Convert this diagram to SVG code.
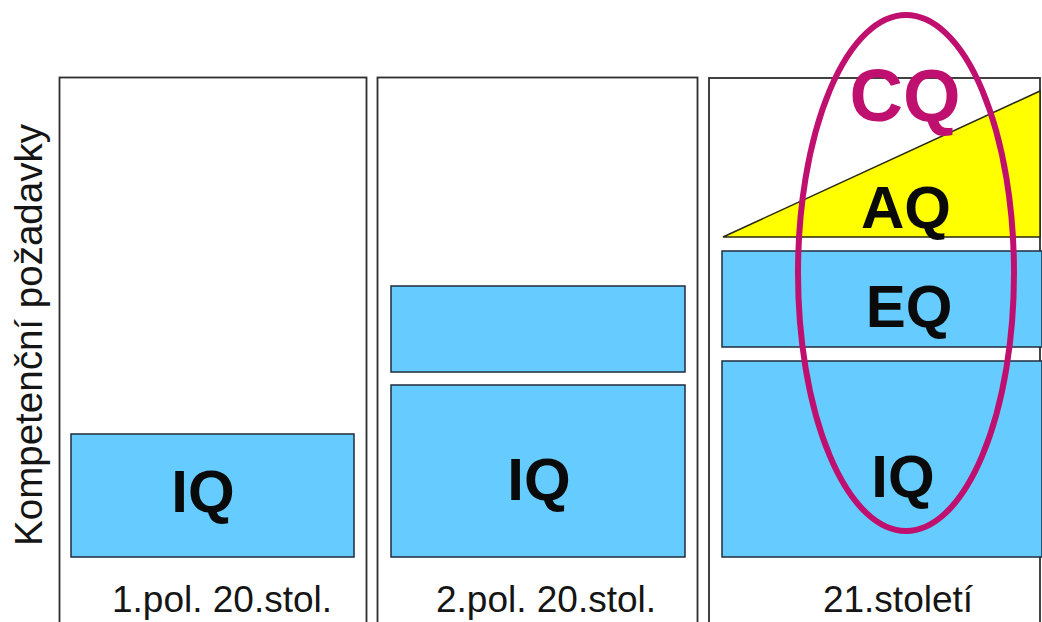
<svg xmlns="http://www.w3.org/2000/svg" width="1042" height="622" viewBox="0 0 1042 622">
  <style>
    .panel { fill: #ffffff; stroke: #2e2e2e; stroke-width: 1.8; }
    .bar { fill: #66CCFF; stroke: #1f2d3d; stroke-width: 1.5; }
    .wedge { fill: #FFFF00; stroke: #2a2a10; stroke-width: 1.5; stroke-linejoin: miter; }
    .big { font-family: "Liberation Sans", Arial, sans-serif; font-weight: bold; font-size: 60px; fill: #0a0a0a; text-anchor: middle; }
    .cap { font-family: "Liberation Sans", Arial, sans-serif; font-size: 37px; fill: #151515; text-anchor: middle; }
    .axis { font-family: "Liberation Sans", Arial, sans-serif; font-size: 38px; fill: #151515; text-anchor: middle; }
    .ring { fill: none; stroke: #C0106F; stroke-width: 6; }
    .cq { font-family: "Liberation Sans", Arial, sans-serif; font-weight: bold; font-size: 74px; fill: #C0106F; text-anchor: middle; }
  </style>
  <rect width="1042" height="622" fill="#ffffff"/>

  <!-- vertical axis label -->
  <g id="axis-label">
    <text class="axis" transform="translate(42,335) rotate(-90)" textLength="422" lengthAdjust="spacingAndGlyphs">Kompetenční požadavky</text>
  </g>

  <!-- first half of 20th century -->
  <g id="period-1">
    <rect class="panel" x="59.5" y="77.5" width="307" height="560"/>
    <rect class="bar" x="71" y="434" width="283" height="123"/>
    <text class="big" x="203" y="512">IQ</text>
    <text class="cap" x="222" y="612">1.pol. 20.stol.</text>
  </g>

  <!-- second half of 20th century -->
  <g id="period-2">
    <rect class="panel" x="377.5" y="77.5" width="320" height="560"/>
    <rect class="bar" x="391" y="286" width="294" height="86"/>
    <rect class="bar" x="391" y="385" width="294" height="172"/>
    <text class="big" x="539" y="500">IQ</text>
    <text class="cap" x="546" y="612">2.pol. 20.stol.</text>
  </g>

  <!-- 21st century -->
  <g id="period-3">
    <rect class="panel" x="709" y="78" width="331" height="560"/>
    <polygon class="wedge" points="723,237 1040,91 1040,237"/>
    <rect class="bar" x="722" y="251" width="320" height="96"/>
    <rect class="bar" x="722" y="361" width="320" height="196"/>
    <text class="big" x="906" y="228">AQ</text>
    <text class="big" x="909" y="327">EQ</text>
    <text class="big" x="903" y="497">IQ</text>
    <text class="cap" x="898" y="612">21.století</text>
  </g>

  <!-- highlighted competence set -->
  <g id="cq-highlight">
    <ellipse class="ring" cx="906" cy="273" rx="108" ry="258"/>
    <text class="cq" x="905" y="121">CQ</text>
  </g>
</svg>
